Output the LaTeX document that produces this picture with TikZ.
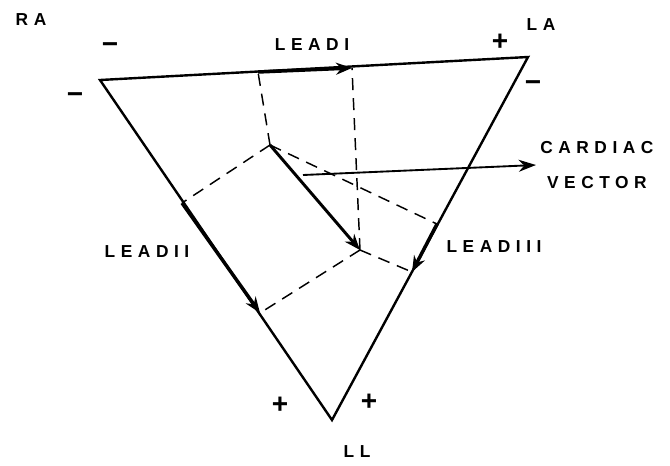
\documentclass[tikz,border=0pt]{standalone}
\usepackage{fontspec}
\setmainfont{Liberation Sans}
\newfontfamily\handfont{Liberation Sans}[LetterSpace=32]
\usetikzlibrary{arrows.meta}

\begin{document}
\begin{tikzpicture}[
    x=0.75pt, y=-0.75pt,
    >=Stealth,
    side/.style={line width=1.8pt, line join=miter},
    proj/.style={line width=1.1pt, dash pattern=on 9pt off 6pt},
    lead/.style={-{Stealth[length=12pt,width=9pt]}, line width=2.6pt},
    vec/.style={-{Stealth[length=12pt,width=9pt]}, line width=2.2pt},
    pointer/.style={-{Stealth[length=13pt,width=9pt]}, line width=1.4pt},
    lbl/.style={font=\handfont\bfseries\fontsize{13}{26}\selectfont, inner sep=3pt},
    sign/.style={font=\fontsize{21}{21}\selectfont\bfseries, inner sep=0pt}
]
    \useasboundingbox (0,0) rectangle (670,465);

    \coordinate (ra) at (100,80);
    \coordinate (la) at (528,57);
    \coordinate (ll) at (332,420);
    \coordinate (vt) at (270,145);
    \coordinate (vh) at (360,250);
    \coordinate (f1a) at (258,72);
    \coordinate (f1b) at (352,68);
    \coordinate (f2a) at (182,203);
    \coordinate (f2b) at (260,313);
    \coordinate (f3a) at (437,224);
    \coordinate (f3b) at (412,272);
    \coordinate (cvs) at (303,175);

    \draw[side] (ra) -- (la) -- (ll) -- cycle;

    \draw[proj] (vt) -- (f1a);
    \draw[proj] (vh) -- (f1b);
    \draw[proj] (vt) -- (f2a);
    \draw[proj] (vh) -- (f2b);
    \draw[proj] (vt) -- (f3a);
    \draw[proj] (vh) -- (f3b);

    \draw[lead] (f1a) -- (f1b);
    \draw[lead] (f2a) -- (f2b);
    \draw[lead] (f3a) -- (f3b);
    \draw[vec] (vt) -- (vh);

    \node[lbl] (ral) at (31,20) {RA};
    \node[lbl] (lal) at (541,25) {LA};
    \node[lbl] (lll) at (357,452) {LL};
    \node[lbl] (l1) at (312,45) {LEADI};
    \node[lbl] (l2) at (147,252) {LEADII};
    \node[lbl] (l3) at (494,247) {LEADIII};
    \node[lbl, align=center, anchor=west] (cv) at (536,165) {CARDIAC\\VECTOR};
    \draw[pointer] (cvs) -- (cv.west);

    \node[sign] (s1) at (110,48) {−};
    \node[sign] (s2) at (75,98) {−};
    \node[sign] (s3) at (500,42) {+};
    \node[sign] (s4) at (533,86) {−};
    \node[sign] (s5) at (280,405) {+};
    \node[sign] (s6) at (369,402) {+};
\end{tikzpicture}
\end{document}
